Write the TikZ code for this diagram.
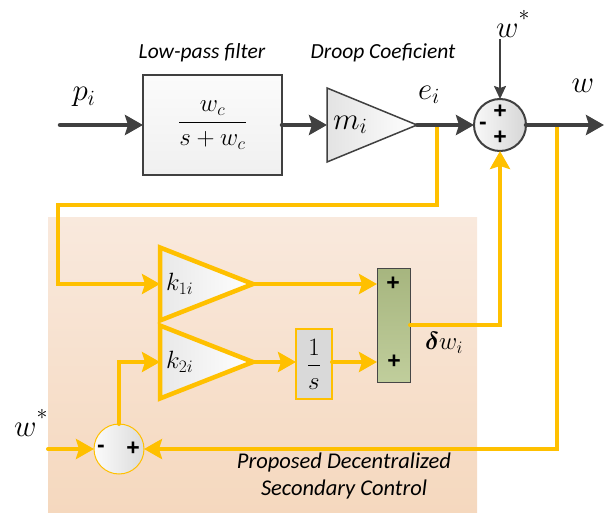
\IfFileExists{fix-cm.sty}{\RequirePackage{fix-cm}}{}
\documentclass[tikz,border=0pt]{standalone}
\usepackage{fontspec}
\usepackage{amsmath}
\usepackage{xcolor}
\usepackage{tikz}
\usetikzlibrary{arrows.meta,positioning,calc,shapes.geometric}

\newfontfamily\capfont{Carlito}
\newfontfamily\signfont{Liberation Sans}
\definecolor{darkline}{HTML}{404040}
\definecolor{gold}{HTML}{FFC000}
\definecolor{panelTop}{HTML}{F9E9DD}
\definecolor{panelBot}{HTML}{F5D8BE}
\definecolor{adderGreen}{HTML}{B5C58A}
\newcommand{\refstar}{^{\raisebox{5pt}{$\scriptstyle *$}}}

\begin{document}
\begin{tikzpicture}[
  x=1pt,
  y=-1pt,
  >={Stealth[length=18pt,width=20pt,inset=3pt]},
  flow/.style={->, line width=4.5pt, line cap=round, draw=darkline},
  setpt/.style={-{Stealth[length=13pt,width=12pt,inset=2pt]}, line width=2pt, draw=darkline},
  ctrl/.style={->, line width=4pt, line cap=round, draw=gold},
  panel/.style={top color=panelTop, bottom color=panelBot, draw=none},
  filt/.style={draw=darkline, line width=2pt, top color=gray!3, bottom color=gray!12,
    minimum width=139pt, minimum height=100pt, inner sep=0pt, outer sep=0pt},
  gain/.style={isosceles triangle, isosceles triangle stretches, shape border rotate=0,
    inner sep=0pt, outer sep=0pt},
  droop/.style={gain, draw=darkline, line width=1.5pt, left color=gray!22, right color=white,
    minimum height=90pt, minimum width=74pt},
  kgain/.style={gain, draw=gold, line width=4.5pt, left color=gray!18, right color=white,
    minimum height=93pt, minimum width=73pt},
  summer/.style={circle, draw=darkline, line width=2pt, left color=gray!5, right color=gray!32,
    minimum size=52pt, inner sep=0pt, outer sep=0pt},
  errsum/.style={circle, draw=gold, line width=1pt, left color=gray!3, right color=gray!28,
    minimum size=50pt, inner sep=0pt, outer sep=0pt},
  integ/.style={draw=gold, line width=1.5pt, fill=gray!30, minimum width=36pt,
    minimum height=70pt, inner sep=0pt, outer sep=0pt},
  adder/.style={draw=gray!55!black, line width=1pt, top color=adderGreen!92!black,
    bottom color=adderGreen!85!white, minimum width=33pt, minimum height=114pt,
    inner sep=0pt, outer sep=0pt},
  sym/.style={font=\fontsize{31}{33}\selectfont, inner sep=0pt},
  title/.style={font=\capfont\itshape\fontsize{21.5}{24}\selectfont, inner sep=0pt},
  sign/.style={font=\signfont\bfseries\fontsize{23}{23}\selectfont, inner sep=0pt}
]
\useasboundingbox (0,0) rectangle (605,513);

% secondary control panel
\node[panel, minimum width=429pt, minimum height=296pt, anchor=north west] (sec) at (48,217) {};
\node[title, align=center, font=\capfont\itshape\fontsize{22.5}{27}\selectfont] (secname) at (344,476)
  {Proposed Decentralized\\Secondary Control};

% primary droop loop
\coordinate (pin) at (60,125);
\coordinate (etap) at (437,125);
\coordinate (wtap) at (557,125);
\coordinate (wout) at (604,125);
\node[filt] (lpf) at (212.5,125)
  {\fontsize{25}{27}\selectfont$\dfrac{w_c}{s+w_c}$};
\node[droop, anchor=west] (mgain) at (327,125)
  {\fontsize{31}{33}\selectfont$m_i$\hspace*{12pt}};
\node[summer] (wsum) at (500,125) {};
\node[sign] (wsumA) at (500,112) {+};
\node[sign] (wsumB) at (500,138) {+};
\node[sign] (wsumC) at (483,126) {-};
\coordinate (wstar) at (500,39);

\node[title] (lpfname) at (202,53) {Low-pass filter};
\node[title] (droopname) at (383,53) {Droop Coeficient};
\node[sym] (plbl) at (84,97) {$p_i$};
\node[sym] (elbl) at (429,95) {$e_i$};
\node[sym] (wlbl) at (583,86) {$w$};
\node[sym] (wstarlbl) at (513,24) {$w\refstar$};

% secondary control blocks
\coordinate (wref) at (48,449);
\node[kgain, anchor=west] (kone) at (160,284)
  {\fontsize{25}{27}\selectfont$k_{1i}$\hspace*{16pt}};
\node[kgain, anchor=west] (ktwo) at (160,362)
  {\fontsize{25}{27}\selectfont$k_{2i}$\hspace*{16pt}};
\node[integ] (integ) at (314,364) {\fontsize{25}{27}\selectfont$\dfrac{1}{s}$};
\node[adder] (adder) at (393.5,325) {};
\node[sign] (adderA) at (393,284) {+};
\node[sign] (adderB) at (394,362) {+};
\node[errsum] (esum) at (119,449) {};
\node[sign] (esumA) at (101,449) {-};
\node[sign] (esumB) at (133,449) {+};
\node[sym, font=\fontsize{25}{27}\selectfont] (dwlbl) at (444,343) {$\boldsymbol{\delta} w_i$};
\node[sym] (wreflbl) at (31,423) {$w\refstar$};

% control paths
\draw[ctrl] (etap) |- (58,205) |- (kone.west);
\draw[ctrl] (kone.east) -- (kone.east -| adder.west);
\draw[ctrl] (ktwo.east) -- (ktwo.east -| integ.west);
\draw[ctrl] (integ.east |- ktwo.east) -- (ktwo.east -| adder.west);
\draw[ctrl] (adder.east) -| (wsum.south);
\draw[ctrl] (wtap) |- (esum.east);
\draw[ctrl] (wref) -- (esum.west);
\draw[ctrl] (esum.north) |- (ktwo.west);

% droop paths
\draw[flow] (pin) -- (lpf.west);
\draw[flow] (lpf.east) -- (mgain.west);
\draw[flow] (mgain.east) -- (wsum.west);
\draw[flow] (wsum.east) -- (wout);
\draw[setpt] (wstar) -- (wsum.north);

\end{tikzpicture}
\end{document}
